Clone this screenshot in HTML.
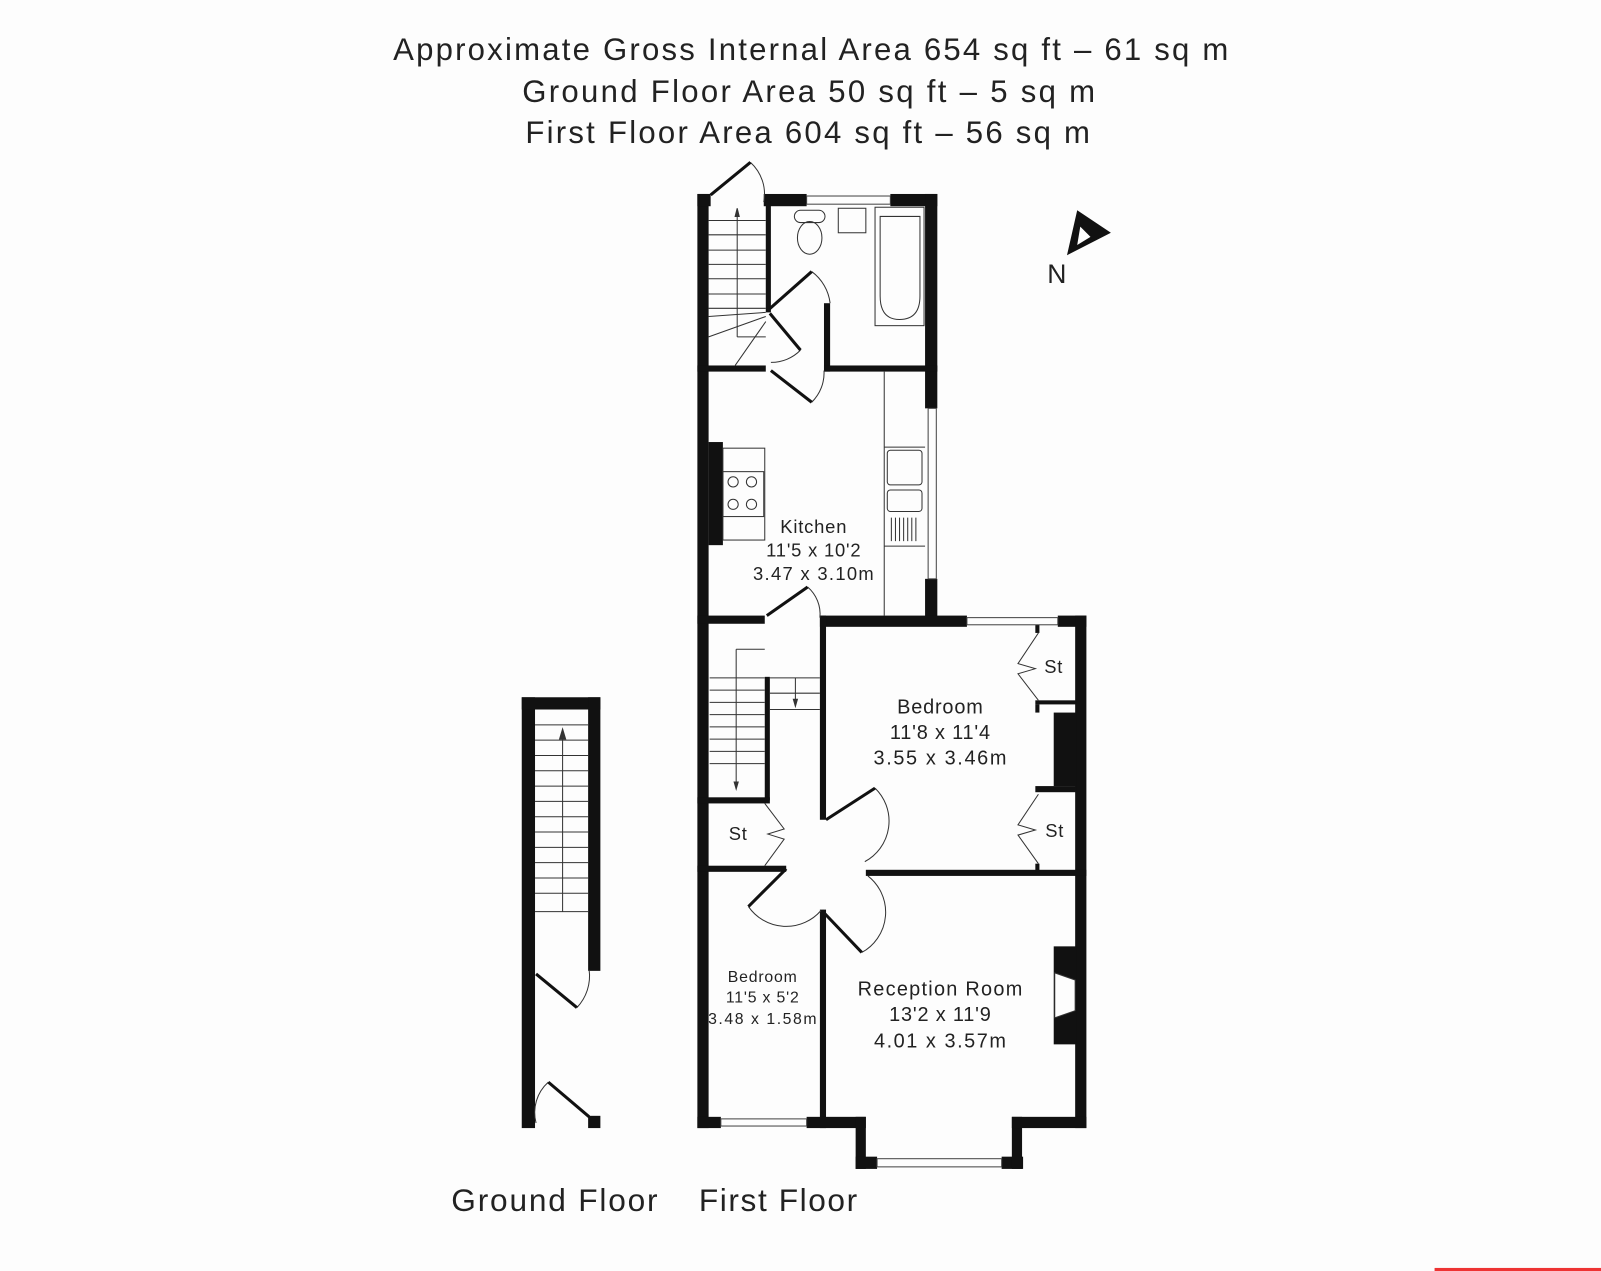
<!DOCTYPE html>
<html><head><meta charset="utf-8"><style>
html,body{margin:0;padding:0;background:#fdfdfd;}
svg{display:block;}
text{font-family:"Liberation Sans","DejaVu Sans",sans-serif;fill:#222;}
</style></head><body>
<svg width="1601" height="1271" viewBox="0 0 1568 1245" preserveAspectRatio="none" xmlns="http://www.w3.org/2000/svg">
<rect width="1568" height="1245" fill="#fdfdfd"/>
<g text-anchor="middle" font-size="30.5">
<text x="794" y="59" textLength="818" lengthAdjust="spacing">Approximate Gross Internal Area 654 sq ft – 61 sq m</text>
<text x="792" y="100" textLength="561" lengthAdjust="spacing">Ground Floor Area 50 sq ft – 5 sq m</text>
<text x="791" y="140" textLength="553" lengthAdjust="spacing">First Floor Area 604 sq ft – 56 sq m</text>
</g>

<!-- Ground floor -->
<g fill="#111">
<rect x="511" y="683" width="13" height="422"/>
<rect x="511" y="683" width="77" height="12"/>
<rect x="576" y="683" width="12" height="268"/>
<rect x="576" y="1093" width="12" height="12"/>
</g>
<g stroke="#333" stroke-width="1" fill="none">
<path d="M524 710H576M524 725H576M524 740H576M524 755H576M524 770H576M524 785H576M524 800H576M524 815H576M524 830H576M524 845H576M524 860H576M524 875H576M524 893H576"/>
<path d="M551 893V716"/><path d="M548 724L551 714L554 724Z" fill="#333"/>
<path d="M565 987A45 45 0 0 0 577 950"/>
<path d="M525 1100A40 40 0 0 1 537 1060"/>
</g>
<g stroke="#111" stroke-width="3">
<line x1="525" y1="954" x2="565" y2="987"/>
<line x1="577" y1="1094" x2="537" y2="1060"/>
</g>

<!-- First floor walls -->
<g fill="#111">
<rect x="683" y="190" width="11" height="915"/>
<rect x="683" y="190" width="13" height="12"/>
<rect x="748" y="190" width="42" height="12"/>
<rect x="872" y="190" width="46" height="12"/>
<rect x="906" y="190" width="12" height="210"/>
<rect x="906" y="567" width="12" height="45"/>
<rect x="750" y="196" width="5" height="110"/>
<rect x="683" y="358" width="67" height="6"/>
<rect x="807" y="297" width="6" height="67"/>
<rect x="807" y="358" width="111" height="6"/>
<rect x="694" y="433" width="14" height="101"/>
<rect x="683" y="603" width="66" height="8"/>
<rect x="803" y="603" width="144" height="11"/>
<rect x="1036" y="603" width="28" height="11"/>
<rect x="1053" y="603" width="11" height="502"/>
<rect x="803" y="603" width="6" height="200"/>
<rect x="749" y="663" width="5" height="121"/>
<rect x="683" y="781" width="71" height="6"/>
<rect x="683" y="848" width="87" height="6"/>
<rect x="848" y="852" width="216" height="6"/>
<rect x="803" y="891" width="6" height="214"/>
<rect x="1032" y="698" width="22" height="72"/>
<rect x="1014" y="612" width="4" height="8"/>
<rect x="1014" y="686" width="40" height="4"/>
<rect x="1014" y="690" width="4" height="8"/>
<rect x="1014" y="770" width="40" height="6"/>
<rect x="1014" y="846" width="4" height="8"/>
<rect x="1032" y="927" width="22" height="96"/>
<rect x="683" y="1094" width="23" height="11"/>
<rect x="790" y="1094" width="58" height="11"/>
<rect x="838" y="1094" width="10" height="51"/>
<rect x="838" y="1133" width="21" height="12"/>
<rect x="981" y="1133" width="21" height="12"/>
<rect x="991" y="1094" width="10" height="51"/>
<rect x="991" y="1094" width="73" height="11"/>
</g>
<path d="M1033 953L1053 960V990L1033 997Z" fill="#fdfdfd" stroke="#333" stroke-width="1"/>

<g stroke="#444" stroke-width="1" fill="none">
<rect x="790" y="192" width="82" height="8"/>
<rect x="909" y="400" width="8" height="167"/>
<rect x="947" y="605" width="89" height="7"/>
<rect x="706" y="1096" width="84" height="7"/>
<rect x="859" y="1135" width="122" height="8"/>
</g>

<g stroke="#333" stroke-width="1" fill="none">
<path d="M694 216H750M694 230H750M694 245H750M694 259H750M694 273H750M694 288H750M694 302H750"/>
<path d="M722 330V207"/>
<path d="M722 330H750"/>
<path d="M694 330L750 310M720 358L750 315M694 310L750 306"/>
<path d="M735 159A42 42 0 0 1 748 198"/>
<path d="M795 266A45 45 0 0 1 813 297"/>
<path d="M784 343A40 40 0 0 1 755 355"/>
<path d="M795 394A40 40 0 0 0 807 363"/>
<path d="M791 575A35 35 0 0 1 803 605"/>
<path d="M866 364V603"/>
<rect x="708" y="439" width="41" height="90"/>
<rect x="708" y="462" width="40" height="44"/>
<circle cx="718" cy="472" r="5"/><circle cx="736" cy="472" r="5"/>
<circle cx="718" cy="494" r="5"/><circle cx="736" cy="494" r="5"/>
<path d="M866 438H906M866 535H906"/>
<rect x="869" y="441" width="34" height="34" rx="3"/>
<rect x="869" y="480" width="34" height="21" rx="3"/>
<path d="M873 507V530M877 507V530M881 507V530M885 507V530M889 507V530M893 507V530M897 507V530"/>
<rect x="857" y="203" width="48" height="116"/>
<path d="M862 212H901V290Q901 313 881 313Q862 313 862 290Z"/>
<ellipse cx="793" cy="233" rx="12" ry="16"/>
<rect x="778" y="206" width="30" height="12" rx="6"/>
<rect x="821" y="204" width="27" height="24"/>
<path d="M695 664H749M695 676H749M695 688H749M695 700H749M695 712H749M695 724H749M695 736H749M695 748H749"/>
<path d="M721 636V772M721 636H749"/>
<path d="M754 664H803M754 679H803M754 695H803"/>
<path d="M779 664V690"/>
<path d="M857 772A45 45 0 0 1 847 844"/>
<path d="M844 933A45 45 0 0 0 850 858"/>
<path d="M733 888A45 45 0 0 0 804 892"/>
<path d="M1017 620L997 650L1014 655L997 660L1017 686"/>
<path d="M1017 778L997 808L1014 813L997 818L1017 846"/>
<path d="M749 787L768 812L752 817L768 822L749 848"/>
</g>
<path d="M719 766L721 773L723 766Z M777 685L779 692L781 685Z M720 212L722 204L724 212Z" fill="#333" stroke="#333"/>
<g stroke="#111" stroke-width="3">
<line x1="696" y1="191" x2="735" y2="159"/>
<line x1="752" y1="304" x2="795" y2="266"/>
<line x1="754" y1="307" x2="784" y2="343"/>
<line x1="755" y1="363" x2="795" y2="394"/>
<line x1="751" y1="603" x2="791" y2="575"/>
<line x1="809" y1="803" x2="857" y2="772"/>
<line x1="805" y1="892" x2="844" y2="933"/>
<line x1="770" y1="851" x2="733" y2="888"/>
</g>

<path d="M1055 206L1088 228L1045 250Z M1058 222L1055 240L1068 232Z" fill="#111" fill-rule="evenodd"/>
<text x="1035" y="277" font-size="26" text-anchor="middle">N</text>

<g text-anchor="middle" letter-spacing="0.8">
<g font-size="18"><text x="797" y="522">Kitchen</text><text x="797" y="545">11'5 x 10'2</text><text x="797" y="568" textLength="119">3.47 x 3.10m</text></g>
<g font-size="19.5"><text x="921" y="699">Bedroom</text><text x="921" y="724">11'8 x 11'4</text><text x="921" y="749" textLength="131">3.55 x 3.46m</text></g>
<g font-size="15.5"><text x="747" y="962">Bedroom</text><text x="747" y="982">11'5 x 5'2</text><text x="747" y="1003" textLength="107">3.48 x 1.58m</text></g>
<g font-size="19.5"><text x="921" y="975" textLength="162">Reception Room</text><text x="921" y="1000">13'2 x 11'9</text><text x="921" y="1026" textLength="130">4.01 x 3.57m</text></g>
<g font-size="18"><text x="1032" y="659">St</text><text x="1033" y="820">St</text><text x="723" y="823">St</text></g>
</g>
<g text-anchor="middle" font-size="31">
<text x="543" y="1186" textLength="202" lengthAdjust="spacing">Ground Floor</text>
<text x="762" y="1186" textLength="155" lengthAdjust="spacing">First Floor</text>
</g>
<rect x="1405" y="1242" width="163" height="3" fill="#e33"/>
</svg>
</body></html>
